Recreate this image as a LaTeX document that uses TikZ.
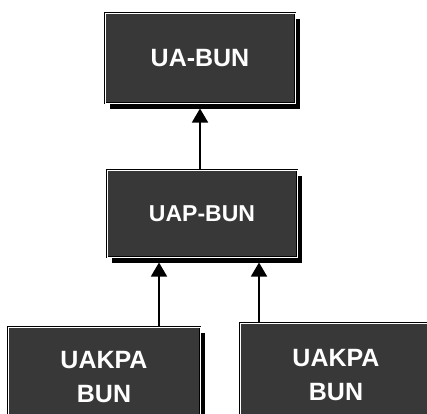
\documentclass[tikz,border=0pt]{standalone}
\usepackage{fontspec}
\setmainfont{Liberation Sans}
\usetikzlibrary{arrows.meta,shadows}
\begin{document}
\begin{tikzpicture}[x=1pt,y=-1pt,
  unit/.style={rectangle, fill=black!78, draw=black, line width=1pt,
    double=white, double distance=0.9pt, text=white, inner sep=0pt,
    align=center, font=\bfseries\fontsize{25}{34}\selectfont,
    general shadow={fill=black, shadow xshift=5pt, shadow yshift=-6pt}},
  link/.style={draw=black, line width=1.5pt, -{Triangle[width=16pt,length=14pt]}}
]
\useasboundingbox (0,0) rectangle (427,413);
\clip (0,0) rectangle (427,413);
\node[unit, minimum width=190pt, minimum height=90pt] (top) at (200,58) {UA-BUN};
\node[unit, minimum width=190pt, minimum height=87pt, font=\bfseries\fontsize{23}{30}\selectfont] (mid) at (202,213.5) {UAP-BUN};
\node[unit, minimum width=192pt, minimum height=100pt] (bl) at (104,377) {UAKPA\\BUN};
\node[unit, minimum width=192pt, minimum height=104pt] (br) at (336,375) {UAKPA\\BUN};
\draw[link, shorten >=5pt] (mid.north -| top.south) -- (top.south);
\draw[link, shorten >=5pt] (bl.north -| 159,0) -- (mid.south -| 159,0);
\draw[link, shorten >=5pt] (br.north -| 259,0) -- (mid.south -| 259,0);
\end{tikzpicture}
\end{document}
